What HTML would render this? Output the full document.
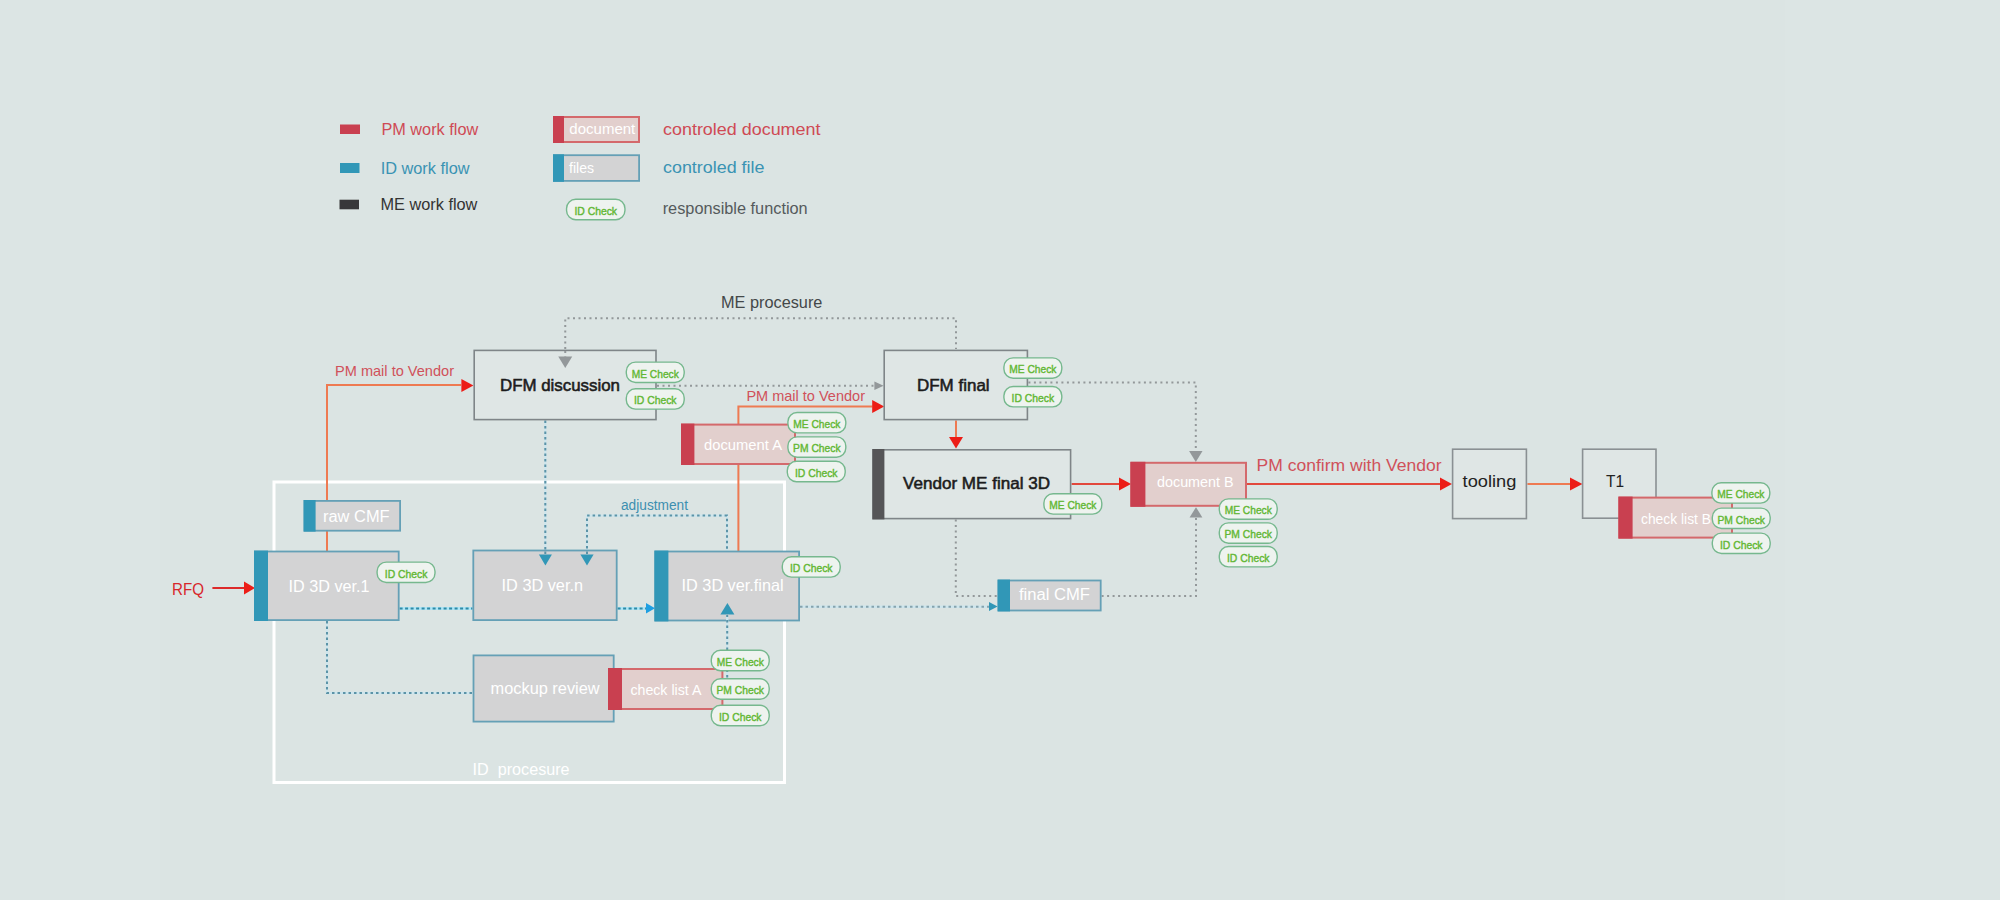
<!DOCTYPE html>
<html><head><meta charset="utf-8"><title>workflow</title>
<style>
html,body{margin:0;padding:0;}
body{width:2000px;height:900px;overflow:hidden;background:#dce5e4;font-family:"Liberation Sans",sans-serif;}
#center{position:absolute;left:160px;top:0;width:1625px;height:900px;background:#dbe4e3;}
svg{position:absolute;left:0;top:0;font-family:"Liberation Sans",sans-serif;}
</style></head><body>
<div id="center"></div>
<svg width="2000" height="900" viewBox="0 0 2000 900">
<rect x="340" y="124.5" width="20" height="9.5" fill="#c94050"/>
<rect x="340" y="163" width="19.5" height="10" fill="#3197b7"/>
<rect x="339.5" y="199.7" width="19.5" height="9.6" fill="#38383a"/>
<text x="381.4" y="134.7" font-size="16" fill="#cf4a55" font-weight="400" text-anchor="start" textLength="96.8" lengthAdjust="spacingAndGlyphs">PM work flow</text>
<text x="380.7" y="174.4" font-size="16" fill="#3a93b3" font-weight="400" text-anchor="start" textLength="88.8" lengthAdjust="spacingAndGlyphs">ID work flow</text>
<text x="380.4" y="210" font-size="16" fill="#333333" font-weight="400" text-anchor="start" textLength="97" lengthAdjust="spacingAndGlyphs">ME work flow</text>
<rect x="554" y="117" width="85" height="25" fill="#e2cfcd" stroke="#d4696c" stroke-width="2"/>
<rect x="553" y="116" width="11" height="27" fill="#c94050"/>
<text x="569.3" y="133.8" font-size="14" fill="#ffffff" font-weight="400" text-anchor="start" textLength="66" lengthAdjust="spacingAndGlyphs">document</text>
<rect x="553.9" y="155.20000000000002" width="85.2" height="25.7" fill="#d3d3d4" stroke="#65a0b6" stroke-width="1.8"/>
<rect x="553" y="154.3" width="11" height="27.5" fill="#3197b7"/>
<text x="569" y="173" font-size="14" fill="#ffffff" font-weight="400" text-anchor="start" textLength="25" lengthAdjust="spacingAndGlyphs">files</text>
<rect x="566.55" y="199.3" width="58.4" height="20.4" fill="#eef3ef" stroke="#76b88e" stroke-width="1.4" rx="9.2"/>
<text x="574.45" y="214.7" font-size="11.3" fill="#62b733" font-weight="400" text-anchor="start" textLength="42.6" lengthAdjust="spacingAndGlyphs" stroke="#62b733" stroke-width="0.4">ID Check</text>
<text x="663" y="134.8" font-size="17" fill="#cf4a55" font-weight="400" text-anchor="start" textLength="157.5" lengthAdjust="spacingAndGlyphs">controled document</text>
<text x="663" y="173" font-size="17" fill="#3a93b3" font-weight="400" text-anchor="start" textLength="101.5" lengthAdjust="spacingAndGlyphs">controled file</text>
<text x="662.7" y="214" font-size="16" fill="#555a5c" font-weight="400" text-anchor="start" textLength="145" lengthAdjust="spacingAndGlyphs">responsible function</text>
<rect x="274" y="482" width="510.5" height="300.5" fill="none" stroke="#ffffff" stroke-width="3"/>
<text x="472.6" y="774.5" font-size="16.5" fill="#ffffff" font-weight="400" text-anchor="start" textLength="97" lengthAdjust="spacingAndGlyphs">ID&#160;&#160;procesure</text>
<path d="M565.25 349 L565.25 318.25 L956 318.25 L956 349" fill="none" stroke="#93989a" stroke-width="2" stroke-dasharray="2 3.5"/>
<path d="M657 385.8 L874 385.8" fill="none" stroke="#93989a" stroke-width="2" stroke-dasharray="2 3.5"/>
<polygon points="883.6,385.8 874.4,381.6 874.4,390.0" fill="#93989a"/>
<path d="M1028.4 382.4 L1195.8 382.4 L1195.8 451" fill="none" stroke="#93989a" stroke-width="2" stroke-dasharray="2 3.5"/>
<polygon points="1195.8,462 1189.1,451 1202.5,451" fill="#93989a"/>
<path d="M955.8 519.4 L955.8 596 L997.6 596" fill="none" stroke="#93989a" stroke-width="2" stroke-dasharray="2 3.5"/>
<path d="M1101.6 596 L1196 596 L1196 517.4" fill="none" stroke="#93989a" stroke-width="2" stroke-dasharray="2 3.5"/>
<polygon points="1196,507.2 1189.6,517.4 1202.4,517.4" fill="#93989a"/>
<path d="M545.3 420.4 L545.3 554.4" fill="none" stroke="#cde5ed" stroke-width="2.4"/>
<path d="M545.3 420.4 L545.3 554.4" fill="none" stroke="#5b93a7" stroke-width="2" stroke-dasharray="2.5 3"/>
<path d="M587 554 L587 515.6 L727 515.6 L727 550.6" fill="none" stroke="#cde5ed" stroke-width="2.4"/>
<path d="M587 554 L587 515.6 L727 515.6 L727 550.6" fill="none" stroke="#5b93a7" stroke-width="2" stroke-dasharray="2.5 3"/>
<path d="M327 621 L327 693 L472.6 693" fill="none" stroke="#cde5ed" stroke-width="2.4"/>
<path d="M327 621 L327 693 L472.6 693" fill="none" stroke="#5b93a7" stroke-width="2" stroke-dasharray="2.5 3"/>
<path d="M800 606.8 L989 606.8" fill="none" stroke="#cde5ed" stroke-width="2.4"/>
<path d="M800 606.8 L989 606.8" fill="none" stroke="#86a3ad" stroke-width="2" stroke-dasharray="2.5 3"/>
<polygon points="997.6,606.6 989.0,602.1 989.0,611.1" fill="#3197b7"/>
<path d="M399.6 608.5 L472.4 608.5" fill="none" stroke="#aee5f6" stroke-width="3"/>
<path d="M399.6 608.5 L472.4 608.5" fill="none" stroke="#2f8aa6" stroke-width="2" stroke-dasharray="3 2.5"/>
<path d="M617.6 608.5 L648 608.5" fill="none" stroke="#aee5f6" stroke-width="3"/>
<path d="M617.6 608.5 L648 608.5" fill="none" stroke="#2f8aa6" stroke-width="2" stroke-dasharray="3 2.5"/>
<path d="M327 551 L327 385 L461 385" fill="none" stroke="#ee7a52" stroke-width="2"/>
<polygon points="473.4,385.4 461.4,378.9 461.4,391.9" fill="#ec1d17"/>
<path d="M738.4 551 L738.4 406.4 L872.4 406.4" fill="none" stroke="#ee7a52" stroke-width="2"/>
<polygon points="884.2,406.5 872.2,400.0 872.2,413.0" fill="#ec1d17"/>
<path d="M956 420.4 L956 437" fill="none" stroke="#ee7a52" stroke-width="2"/>
<polygon points="956,448.6 949.0,437.0 963.0,437.0" fill="#ec1d17"/>
<path d="M1071.6 484 L1119 484" fill="none" stroke="#e2483c" stroke-width="2"/>
<polygon points="1131,484 1119,477.5 1119,490.5" fill="#ec1d17"/>
<path d="M1247 484 L1440 484" fill="none" stroke="#e2483c" stroke-width="2"/>
<polygon points="1452,484 1440,477.5 1440,490.5" fill="#ec1d17"/>
<path d="M1527.4 484 L1570 484" fill="none" stroke="#ee7a52" stroke-width="2"/>
<polygon points="1582.4,484 1570.0,477.5 1570.0,490.5" fill="#ec1d17"/>
<path d="M212.4 588 L244 588" fill="none" stroke="#dc2a2a" stroke-width="2"/>
<polygon points="255,588 244,581.5 244,594.5" fill="#ec1d17"/>
<rect x="474.20000000000005" y="350.40000000000003" width="181.8" height="69.2" fill="#dfe6e5" stroke="#7f8588" stroke-width="1.6"/>
<path d="M565.25 351 L565.25 357" fill="none" stroke="#93989a" stroke-width="2" stroke-dasharray="2 3.5"/>
<polygon points="565.25,368 558.25,356.4 572.25,356.4" fill="#93989a"/>
<text x="500" y="390.6" font-size="16.5" fill="#1c1c1c" font-weight="400" text-anchor="start" textLength="120" lengthAdjust="spacingAndGlyphs" stroke="#1c1c1c" stroke-width="0.55">DFM discussion</text>
<rect x="884.2" y="350.40000000000003" width="143.20000000000002" height="69.2" fill="#dfe6e5" stroke="#7f8588" stroke-width="1.6"/>
<text x="917" y="390.6" font-size="16.5" fill="#1c1c1c" font-weight="400" text-anchor="start" textLength="72.6" lengthAdjust="spacingAndGlyphs" stroke="#1c1c1c" stroke-width="0.55">DFM final</text>
<rect x="873.0" y="449.8" width="197.6" height="68.80000000000001" fill="#dfe6e5" stroke="#7f8588" stroke-width="1.6"/>
<rect x="872.4" y="449" width="12" height="70.4" fill="#555557"/>
<text x="903" y="488.6" font-size="16.5" fill="#1c1c1c" font-weight="400" text-anchor="start" textLength="147" lengthAdjust="spacingAndGlyphs" stroke="#1c1c1c" stroke-width="0.55">Vendor ME final 3D</text>
<rect x="1452.6" y="449.2" width="73.80000000000001" height="69.4" fill="#dfe6e5" stroke="#8a9093" stroke-width="1.6"/>
<text x="1462.6" y="487.4" font-size="17" fill="#222222" font-weight="400" text-anchor="start" textLength="53.8" lengthAdjust="spacingAndGlyphs">tooling</text>
<rect x="1582.6" y="449.2" width="73.4" height="69.0" fill="#dfe6e5" stroke="#8a9093" stroke-width="1.6"/>
<text x="1606" y="487" font-size="16" fill="#222222" font-weight="400" text-anchor="start" textLength="18" lengthAdjust="spacingAndGlyphs">T1</text>
<rect x="304.5" y="500.9" width="95.60000000000001" height="29.8" fill="#d3d3d4" stroke="#65a0b6" stroke-width="1.8"/>
<rect x="303.6" y="500" width="12" height="31.6" fill="#3197b7"/>
<text x="323" y="522" font-size="16" fill="#ffffff" font-weight="400" text-anchor="start" textLength="66.6" lengthAdjust="spacingAndGlyphs">raw CMF</text>
<rect x="254.9" y="551.5" width="143.79999999999998" height="68.60000000000001" fill="#d3d3d4" stroke="#65a0b6" stroke-width="1.8"/>
<rect x="254" y="550.6" width="14" height="70.4" fill="#3197b7"/>
<text x="288.6" y="592.4" font-size="16.5" fill="#ffffff" font-weight="400" text-anchor="start" textLength="81" lengthAdjust="spacingAndGlyphs">ID 3D ver.1</text>
<rect x="473.29999999999995" y="550.5" width="143.39999999999998" height="69.60000000000001" fill="#d3d3d4" stroke="#65a0b6" stroke-width="1.8"/>
<text x="501.6" y="591" font-size="16.5" fill="#ffffff" font-weight="400" text-anchor="start" textLength="81.4" lengthAdjust="spacingAndGlyphs">ID 3D ver.n</text>
<rect x="655.3" y="551.5" width="143.79999999999998" height="69.0" fill="#d3d3d4" stroke="#65a0b6" stroke-width="1.8"/>
<rect x="654.4" y="550.6" width="14" height="70.8" fill="#3197b7"/>
<text x="681.6" y="591" font-size="16.5" fill="#ffffff" font-weight="400" text-anchor="start" textLength="102" lengthAdjust="spacingAndGlyphs">ID 3D ver.final</text>
<rect x="473.5" y="655.4" width="140.2" height="66.2" fill="#d3d3d4" stroke="#65a0b6" stroke-width="1.8"/>
<text x="490.6" y="693.5" font-size="16" fill="#ffffff" font-weight="400" text-anchor="start" textLength="109" lengthAdjust="spacingAndGlyphs">mockup review</text>
<rect x="998.5" y="580.5" width="102.2" height="30.0" fill="#d3d3d4" stroke="#65a0b6" stroke-width="1.8"/>
<rect x="997.6" y="579.6" width="12.4" height="31.8" fill="#3197b7"/>
<text x="1019" y="600" font-size="16" fill="#ffffff" font-weight="400" text-anchor="start" textLength="71" lengthAdjust="spacingAndGlyphs">final CMF</text>
<path d="M545.3 551.5 L545.3 556" fill="none" stroke="#5b93a7" stroke-width="2" stroke-dasharray="2.5 3"/>
<path d="M587 551.5 L587 556" fill="none" stroke="#5b93a7" stroke-width="2" stroke-dasharray="2.5 3"/>
<polygon points="545.4,565.6 538.9,554.4 551.9,554.4" fill="#3197b7"/>
<polygon points="587,565.6 580.4,554.4 593.6,554.4" fill="#3197b7"/>
<polygon points="727.4,603 720.4,614.4 734.4,614.4" fill="#3197b7"/>
<polygon points="655,608.3 646,603.0 646,613.5999999999999" fill="#1e9fe2"/>
<rect x="682" y="424.6" width="113" height="39.4" fill="#e2cfcd" stroke="#d4696c" stroke-width="2"/>
<rect x="681" y="423.6" width="13.4" height="41.4" fill="#c94050"/>
<text x="704" y="450.4" font-size="14" fill="#ffffff" font-weight="400" text-anchor="start" textLength="78" lengthAdjust="spacingAndGlyphs">document A</text>
<rect x="1131.4" y="462.8" width="114.6" height="43" fill="#e2cfcd" stroke="#d4696c" stroke-width="2"/>
<rect x="1130.4" y="461.8" width="15" height="45" fill="#c94050"/>
<text x="1157" y="487" font-size="14" fill="#ffffff" font-weight="400" text-anchor="start" textLength="76.6" lengthAdjust="spacingAndGlyphs">document B</text>
<rect x="609" y="669" width="113.4" height="40" fill="#e2cfcd" stroke="#d4696c" stroke-width="2"/>
<rect x="608" y="668" width="14" height="42" fill="#c94050"/>
<text x="630.4" y="695" font-size="14" fill="#ffffff" font-weight="400" text-anchor="start" textLength="71" lengthAdjust="spacingAndGlyphs">check list A</text>
<rect x="1619.4" y="497.6" width="112.6" height="40" fill="#e2cfcd" stroke="#d4696c" stroke-width="2"/>
<rect x="1618.4" y="496.6" width="14.2" height="42" fill="#c94050"/>
<text x="1641" y="524" font-size="14" fill="#ffffff" font-weight="400" text-anchor="start" textLength="70" lengthAdjust="spacingAndGlyphs">check list B</text>
<path d="M727.2 614.4 L727.2 678.5" fill="none" stroke="#cde5ed" stroke-width="2.4"/>
<path d="M727.2 614.4 L727.2 678.5" fill="none" stroke="#5b93a7" stroke-width="2" stroke-dasharray="2.5 3"/>
<text x="335" y="375.6" font-size="14.5" fill="#d0515a" font-weight="400" text-anchor="start" textLength="119" lengthAdjust="spacingAndGlyphs">PM mail to Vendor</text>
<text x="746.4" y="401.4" font-size="14.5" fill="#d0515a" font-weight="400" text-anchor="start" textLength="118.6" lengthAdjust="spacingAndGlyphs">PM mail to Vendor</text>
<text x="721" y="307.6" font-size="16.5" fill="#444849" font-weight="400" text-anchor="start" textLength="101.4" lengthAdjust="spacingAndGlyphs">ME procesure</text>
<text x="1256.6" y="471" font-size="17" fill="#d0515a" font-weight="400" text-anchor="start" textLength="185" lengthAdjust="spacingAndGlyphs">PM confirm with Vendor</text>
<text x="621" y="509.5" font-size="14" fill="#3d8fb0" font-weight="400" text-anchor="start" textLength="67" lengthAdjust="spacingAndGlyphs">adjustment</text>
<text x="172" y="595" font-size="16.5" fill="#d8262b" font-weight="400" text-anchor="start" textLength="32" lengthAdjust="spacingAndGlyphs">RFQ</text>
<rect x="626.3" y="362.1" width="57.9" height="20.4" fill="#eef3ef" stroke="#76b88e" stroke-width="1.4" rx="9.2"/>
<text x="631.75" y="377.5" font-size="11.3" fill="#62b733" font-weight="400" text-anchor="start" textLength="47" lengthAdjust="spacingAndGlyphs" stroke="#62b733" stroke-width="0.4">ME Check</text>
<rect x="626.3" y="388.7" width="57.9" height="20.4" fill="#eef3ef" stroke="#76b88e" stroke-width="1.4" rx="9.2"/>
<text x="633.95" y="404.09999999999997" font-size="11.3" fill="#62b733" font-weight="400" text-anchor="start" textLength="42.6" lengthAdjust="spacingAndGlyphs" stroke="#62b733" stroke-width="0.4">ID Check</text>
<rect x="1003.9" y="357.90000000000003" width="57.9" height="20.4" fill="#eef3ef" stroke="#76b88e" stroke-width="1.4" rx="9.2"/>
<text x="1009.3499999999999" y="373.3" font-size="11.3" fill="#62b733" font-weight="400" text-anchor="start" textLength="47" lengthAdjust="spacingAndGlyphs" stroke="#62b733" stroke-width="0.4">ME Check</text>
<rect x="1003.9" y="386.5" width="57.9" height="20.4" fill="#eef3ef" stroke="#76b88e" stroke-width="1.4" rx="9.2"/>
<text x="1011.55" y="401.9" font-size="11.3" fill="#62b733" font-weight="400" text-anchor="start" textLength="42.6" lengthAdjust="spacingAndGlyphs" stroke="#62b733" stroke-width="0.4">ID Check</text>
<rect x="787.9" y="412.5" width="57.9" height="20.4" fill="#eef3ef" stroke="#76b88e" stroke-width="1.4" rx="9.2"/>
<text x="793.35" y="427.9" font-size="11.3" fill="#62b733" font-weight="400" text-anchor="start" textLength="47" lengthAdjust="spacingAndGlyphs" stroke="#62b733" stroke-width="0.4">ME Check</text>
<rect x="787.9" y="436.90000000000003" width="57.9" height="20.4" fill="#eef3ef" stroke="#76b88e" stroke-width="1.4" rx="9.2"/>
<text x="793.1" y="452.3" font-size="11.3" fill="#62b733" font-weight="400" text-anchor="start" textLength="47.5" lengthAdjust="spacingAndGlyphs" stroke="#62b733" stroke-width="0.4">PM Check</text>
<rect x="787.3" y="461.3" width="57.9" height="20.4" fill="#eef3ef" stroke="#76b88e" stroke-width="1.4" rx="9.2"/>
<text x="794.95" y="476.7" font-size="11.3" fill="#62b733" font-weight="400" text-anchor="start" textLength="42.6" lengthAdjust="spacingAndGlyphs" stroke="#62b733" stroke-width="0.4">ID Check</text>
<rect x="1043.8999999999999" y="493.7" width="57.9" height="20.4" fill="#eef3ef" stroke="#76b88e" stroke-width="1.4" rx="9.2"/>
<text x="1049.35" y="509.09999999999997" font-size="11.3" fill="#62b733" font-weight="400" text-anchor="start" textLength="47" lengthAdjust="spacingAndGlyphs" stroke="#62b733" stroke-width="0.4">ME Check</text>
<rect x="1219.3" y="498.90000000000003" width="57.9" height="20.4" fill="#eef3ef" stroke="#76b88e" stroke-width="1.4" rx="9.2"/>
<text x="1224.75" y="514.3000000000001" font-size="11.3" fill="#62b733" font-weight="400" text-anchor="start" textLength="47" lengthAdjust="spacingAndGlyphs" stroke="#62b733" stroke-width="0.4">ME Check</text>
<rect x="1219.3" y="522.9" width="57.9" height="20.4" fill="#eef3ef" stroke="#76b88e" stroke-width="1.4" rx="9.2"/>
<text x="1224.5" y="538.3000000000001" font-size="11.3" fill="#62b733" font-weight="400" text-anchor="start" textLength="47.5" lengthAdjust="spacingAndGlyphs" stroke="#62b733" stroke-width="0.4">PM Check</text>
<rect x="1219.3" y="546.5" width="57.9" height="20.4" fill="#eef3ef" stroke="#76b88e" stroke-width="1.4" rx="9.2"/>
<text x="1226.95" y="561.9000000000001" font-size="11.3" fill="#62b733" font-weight="400" text-anchor="start" textLength="42.6" lengthAdjust="spacingAndGlyphs" stroke="#62b733" stroke-width="0.4">ID Check</text>
<rect x="1711.8999999999999" y="482.7" width="57.9" height="20.4" fill="#eef3ef" stroke="#76b88e" stroke-width="1.4" rx="9.2"/>
<text x="1717.35" y="498.09999999999997" font-size="11.3" fill="#62b733" font-weight="400" text-anchor="start" textLength="47" lengthAdjust="spacingAndGlyphs" stroke="#62b733" stroke-width="0.4">ME Check</text>
<rect x="1712.3" y="508.1" width="57.9" height="20.4" fill="#eef3ef" stroke="#76b88e" stroke-width="1.4" rx="9.2"/>
<text x="1717.5" y="523.5" font-size="11.3" fill="#62b733" font-weight="400" text-anchor="start" textLength="47.5" lengthAdjust="spacingAndGlyphs" stroke="#62b733" stroke-width="0.4">PM Check</text>
<rect x="1712.3" y="533.0999999999999" width="57.9" height="20.4" fill="#eef3ef" stroke="#76b88e" stroke-width="1.4" rx="9.2"/>
<text x="1719.95" y="548.5" font-size="11.3" fill="#62b733" font-weight="400" text-anchor="start" textLength="42.6" lengthAdjust="spacingAndGlyphs" stroke="#62b733" stroke-width="0.4">ID Check</text>
<rect x="377.1" y="562.0999999999999" width="57.9" height="20.4" fill="#eef3ef" stroke="#76b88e" stroke-width="1.4" rx="9.2"/>
<text x="384.75" y="577.5" font-size="11.3" fill="#62b733" font-weight="400" text-anchor="start" textLength="42.6" lengthAdjust="spacingAndGlyphs" stroke="#62b733" stroke-width="0.4">ID Check</text>
<rect x="782.3" y="556.6999999999999" width="57.9" height="20.4" fill="#eef3ef" stroke="#76b88e" stroke-width="1.4" rx="9.2"/>
<text x="789.95" y="572.1" font-size="11.3" fill="#62b733" font-weight="400" text-anchor="start" textLength="42.6" lengthAdjust="spacingAndGlyphs" stroke="#62b733" stroke-width="0.4">ID Check</text>
<rect x="711.3" y="650.3" width="57.9" height="20.4" fill="#eef3ef" stroke="#76b88e" stroke-width="1.4" rx="9.2"/>
<text x="716.75" y="665.7" font-size="11.3" fill="#62b733" font-weight="400" text-anchor="start" textLength="47" lengthAdjust="spacingAndGlyphs" stroke="#62b733" stroke-width="0.4">ME Check</text>
<rect x="711.3" y="678.8" width="57.9" height="20.4" fill="#eef3ef" stroke="#76b88e" stroke-width="1.4" rx="9.2"/>
<text x="716.5" y="694.2" font-size="11.3" fill="#62b733" font-weight="400" text-anchor="start" textLength="47.5" lengthAdjust="spacingAndGlyphs" stroke="#62b733" stroke-width="0.4">PM Check</text>
<rect x="711.3" y="705.3" width="57.9" height="20.4" fill="#eef3ef" stroke="#76b88e" stroke-width="1.4" rx="9.2"/>
<text x="718.95" y="720.7" font-size="11.3" fill="#62b733" font-weight="400" text-anchor="start" textLength="42.6" lengthAdjust="spacingAndGlyphs" stroke="#62b733" stroke-width="0.4">ID Check</text>
</svg>
</body></html>
